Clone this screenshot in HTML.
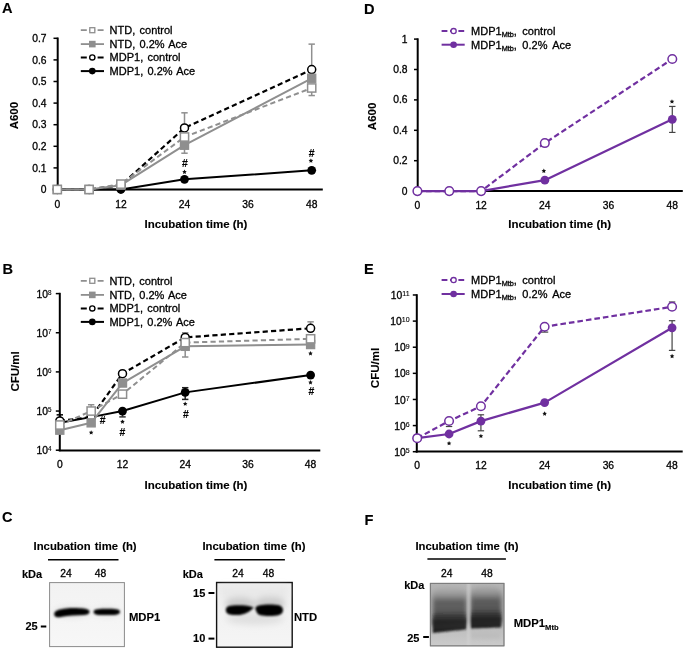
<!DOCTYPE html>
<html><head><meta charset="utf-8"><style>
html,body{margin:0;padding:0;background:#fff;}
body{width:685px;height:650px;overflow:hidden;}
svg{display:block;font-family:"Liberation Sans",sans-serif;will-change:transform;filter:blur(0.3px);}
text{stroke:#000;stroke-width:0.3px;}
text[font-weight="bold"]{stroke-width:0.12px;}
</style></head><body>
<svg width="685" height="650" viewBox="0 0 685 650">
<defs>
<filter id="blur1" x="-20%" y="-50%" width="140%" height="200%"><feGaussianBlur stdDeviation="0.9"/></filter>
<filter id="blur2" x="-20%" y="-50%" width="140%" height="200%"><feGaussianBlur stdDeviation="2.2"/></filter>
<linearGradient id="gC1" x1="0" y1="0" x2="0" y2="1"><stop offset="0" stop-color="#f2f2f2"/><stop offset="1" stop-color="#f7f7f7"/></linearGradient>
<linearGradient id="gC2" x1="0" y1="0" x2="0" y2="1"><stop offset="0" stop-color="#eeeeee"/><stop offset="0.5" stop-color="#f2f2f2"/><stop offset="1" stop-color="#f5f5f5"/></linearGradient>
<linearGradient id="gF" x1="0" y1="0" x2="0" y2="1"><stop offset="0" stop-color="#b6b6b6"/><stop offset="0.25" stop-color="#ababab"/><stop offset="0.8" stop-color="#c2c2c2"/><stop offset="1" stop-color="#cccccc"/></linearGradient>
<linearGradient id="gLane" gradientUnits="userSpaceOnUse" x1="0" y1="587" x2="0" y2="626"><stop offset="0" stop-color="#b2b2b2"/><stop offset="0.18" stop-color="#9a9a9a"/><stop offset="0.33" stop-color="#707070"/><stop offset="0.5" stop-color="#626262"/><stop offset="0.7" stop-color="#4e4e4e"/><stop offset="1" stop-color="#333"/></linearGradient>
<linearGradient id="gLane2" gradientUnits="userSpaceOnUse" x1="0" y1="586" x2="0" y2="624"><stop offset="0" stop-color="#adadad"/><stop offset="0.18" stop-color="#959595"/><stop offset="0.33" stop-color="#6c6c6c"/><stop offset="0.5" stop-color="#5e5e5e"/><stop offset="0.7" stop-color="#4a4a4a"/><stop offset="1" stop-color="#333"/></linearGradient>
<linearGradient id="gBand" gradientUnits="userSpaceOnUse" x1="0" y1="612" x2="0" y2="632"><stop offset="0" stop-color="#222" stop-opacity="0"/><stop offset="0.45" stop-color="#222" stop-opacity="0.85"/><stop offset="1" stop-color="#1c1c1c"/></linearGradient>
<linearGradient id="gBand2" gradientUnits="userSpaceOnUse" x1="0" y1="610" x2="0" y2="628"><stop offset="0" stop-color="#222" stop-opacity="0"/><stop offset="0.45" stop-color="#222" stop-opacity="0.85"/><stop offset="1" stop-color="#1c1c1c"/></linearGradient>
<filter id="blur3" x="-30%" y="-80%" width="160%" height="260%"><feGaussianBlur stdDeviation="3"/></filter>
<filter id="blurF1" x="-20%" y="-30%" width="140%" height="160%"><feGaussianBlur stdDeviation="2.0"/></filter>
<filter id="blurF2" x="-20%" y="-50%" width="140%" height="200%"><feGaussianBlur stdDeviation="1.1"/></filter>
<filter id="blur15" x="-20%" y="-50%" width="140%" height="200%"><feGaussianBlur stdDeviation="1.3"/></filter>
<clipPath id="clipF"><rect x="430.4" y="583.4" width="73.5" height="62.4"/></clipPath>
</defs>
<rect width="685" height="650" fill="#fff"/>
<text x="2.00" y="12.90" font-size="14.6" text-anchor="start" font-weight="bold" fill="#000" >A</text>
<text x="2.50" y="273.90" font-size="14.6" text-anchor="start" font-weight="bold" fill="#000" >B</text>
<text x="2.00" y="521.90" font-size="14.6" text-anchor="start" font-weight="bold" fill="#000" >C</text>
<text x="364.00" y="13.50" font-size="14.6" text-anchor="start" font-weight="bold" fill="#000" >D</text>
<text x="364.00" y="274.40" font-size="14.6" text-anchor="start" font-weight="bold" fill="#000" >E</text>
<text x="364.50" y="524.90" font-size="14.6" text-anchor="start" font-weight="bold" fill="#000" >F</text>
<line x1="57.70" y1="37.50" x2="57.70" y2="190.50" stroke="#000" stroke-width="2" stroke-linecap="butt"/>
<line x1="53.50" y1="189.50" x2="57.70" y2="189.50" stroke="#000" stroke-width="1.5" stroke-linecap="butt"/>
<text x="46.60" y="193.10" font-size="10.3" text-anchor="end" font-weight="normal" fill="#000" >0</text>
<line x1="53.50" y1="167.90" x2="57.70" y2="167.90" stroke="#000" stroke-width="1.5" stroke-linecap="butt"/>
<text x="46.60" y="171.50" font-size="10.3" text-anchor="end" font-weight="normal" fill="#000" >0.1</text>
<line x1="53.50" y1="146.30" x2="57.70" y2="146.30" stroke="#000" stroke-width="1.5" stroke-linecap="butt"/>
<text x="46.60" y="149.90" font-size="10.3" text-anchor="end" font-weight="normal" fill="#000" >0.2</text>
<line x1="53.50" y1="124.70" x2="57.70" y2="124.70" stroke="#000" stroke-width="1.5" stroke-linecap="butt"/>
<text x="46.60" y="128.30" font-size="10.3" text-anchor="end" font-weight="normal" fill="#000" >0.3</text>
<line x1="53.50" y1="103.10" x2="57.70" y2="103.10" stroke="#000" stroke-width="1.5" stroke-linecap="butt"/>
<text x="46.60" y="106.70" font-size="10.3" text-anchor="end" font-weight="normal" fill="#000" >0.4</text>
<line x1="53.50" y1="81.50" x2="57.70" y2="81.50" stroke="#000" stroke-width="1.5" stroke-linecap="butt"/>
<text x="46.60" y="85.10" font-size="10.3" text-anchor="end" font-weight="normal" fill="#000" >0.5</text>
<line x1="53.50" y1="59.90" x2="57.70" y2="59.90" stroke="#000" stroke-width="1.5" stroke-linecap="butt"/>
<text x="46.60" y="63.50" font-size="10.3" text-anchor="end" font-weight="normal" fill="#000" >0.6</text>
<line x1="53.50" y1="38.30" x2="57.70" y2="38.30" stroke="#000" stroke-width="1.5" stroke-linecap="butt"/>
<text x="46.60" y="41.90" font-size="10.3" text-anchor="end" font-weight="normal" fill="#000" >0.7</text>
<line x1="56.70" y1="189.60" x2="322.80" y2="189.60" stroke="#000" stroke-width="2" stroke-linecap="butt"/>
<text x="57.30" y="207.80" font-size="10.3" text-anchor="middle" font-weight="normal" fill="#000" >0</text>
<text x="120.90" y="207.80" font-size="10.3" text-anchor="middle" font-weight="normal" fill="#000" >12</text>
<text x="184.50" y="207.80" font-size="10.3" text-anchor="middle" font-weight="normal" fill="#000" >24</text>
<text x="248.10" y="207.80" font-size="10.3" text-anchor="middle" font-weight="normal" fill="#000" >36</text>
<text x="311.70" y="207.80" font-size="10.3" text-anchor="middle" font-weight="normal" fill="#000" >48</text>
<text x="196.00" y="227.90" font-size="11.5" text-anchor="middle" font-weight="bold" fill="#000" >Incubation time (h)</text>
<text x="17.70" y="115.60" font-size="11.5" text-anchor="middle" font-weight="bold" fill="#000" transform="rotate(-90 17.7 115.6)">A600</text>
<line x1="184.50" y1="127.94" x2="184.50" y2="112.82" stroke="#8f8f8f" stroke-width="1.5" stroke-linecap="butt"/>
<line x1="181.30" y1="112.82" x2="187.70" y2="112.82" stroke="#8f8f8f" stroke-width="1.5" stroke-linecap="butt"/>
<line x1="184.50" y1="145.22" x2="184.50" y2="153.21" stroke="#8f8f8f" stroke-width="1.5" stroke-linecap="butt"/>
<line x1="181.30" y1="153.21" x2="187.70" y2="153.21" stroke="#8f8f8f" stroke-width="1.5" stroke-linecap="butt"/>
<line x1="311.70" y1="69.62" x2="311.70" y2="44.13" stroke="#8f8f8f" stroke-width="1.5" stroke-linecap="butt"/>
<line x1="308.50" y1="44.13" x2="314.90" y2="44.13" stroke="#8f8f8f" stroke-width="1.5" stroke-linecap="butt"/>
<line x1="311.70" y1="87.98" x2="311.70" y2="95.54" stroke="#8f8f8f" stroke-width="1.5" stroke-linecap="butt"/>
<line x1="308.50" y1="95.54" x2="314.90" y2="95.54" stroke="#8f8f8f" stroke-width="1.5" stroke-linecap="butt"/>
<polyline points="57.30,189.50 89.10,189.50 120.90,189.50 184.50,179.35 311.70,170.28" fill="none" stroke="#000" stroke-width="2" stroke-linejoin="round"/>
<circle cx="57.30" cy="189.50" r="4.4" fill="#000"/>
<circle cx="89.10" cy="189.50" r="4.4" fill="#000"/>
<circle cx="120.90" cy="189.50" r="4.4" fill="#000"/>
<circle cx="184.50" cy="179.35" r="4.4" fill="#000"/>
<circle cx="311.70" cy="170.28" r="4.4" fill="#000"/>
<polyline points="57.30,189.50 89.10,189.50 120.90,185.18 184.50,127.94 311.70,69.62" fill="none" stroke="#000" stroke-width="2.2" stroke-linejoin="round" stroke-dasharray="5.2,3.2"/>
<circle cx="57.30" cy="189.50" r="4.0" fill="#fff" stroke="#000" stroke-width="1.5"/>
<circle cx="89.10" cy="189.50" r="4.0" fill="#fff" stroke="#000" stroke-width="1.5"/>
<circle cx="120.90" cy="185.18" r="4.0" fill="#fff" stroke="#000" stroke-width="1.5"/>
<circle cx="184.50" cy="127.94" r="4.0" fill="#fff" stroke="#000" stroke-width="1.5"/>
<circle cx="311.70" cy="69.62" r="4.0" fill="#fff" stroke="#000" stroke-width="1.5"/>
<polyline points="57.30,189.50 89.10,189.50 120.90,185.18 184.50,145.22 311.70,78.26" fill="none" stroke="#8f8f8f" stroke-width="2" stroke-linejoin="round"/>
<rect x="53.20" y="185.40" width="8.2" height="8.2" fill="#8f8f8f" stroke="#8f8f8f" stroke-width="1.2"/>
<rect x="85.00" y="185.40" width="8.2" height="8.2" fill="#8f8f8f" stroke="#8f8f8f" stroke-width="1.2"/>
<rect x="116.80" y="181.08" width="8.2" height="8.2" fill="#8f8f8f" stroke="#8f8f8f" stroke-width="1.2"/>
<rect x="180.40" y="141.12" width="8.2" height="8.2" fill="#8f8f8f" stroke="#8f8f8f" stroke-width="1.2"/>
<rect x="307.60" y="74.16" width="8.2" height="8.2" fill="#8f8f8f" stroke="#8f8f8f" stroke-width="1.2"/>
<polyline points="57.30,189.50 89.10,189.50 120.90,184.10 184.50,137.01 311.70,87.98" fill="none" stroke="#8f8f8f" stroke-width="2" stroke-linejoin="round" stroke-dasharray="5.2,3.2"/>
<rect x="53.20" y="185.40" width="8.2" height="8.2" fill="#fff" stroke="#8f8f8f" stroke-width="1.5"/>
<rect x="85.00" y="185.40" width="8.2" height="8.2" fill="#fff" stroke="#8f8f8f" stroke-width="1.5"/>
<rect x="116.80" y="180.00" width="8.2" height="8.2" fill="#fff" stroke="#8f8f8f" stroke-width="1.5"/>
<rect x="180.40" y="132.91" width="8.2" height="8.2" fill="#fff" stroke="#8f8f8f" stroke-width="1.5"/>
<rect x="307.60" y="83.88" width="8.2" height="8.2" fill="#fff" stroke="#8f8f8f" stroke-width="1.5"/>
<text x="184.80" y="167.20" font-size="10.4" text-anchor="middle" font-weight="bold">#</text>
<polygon points="184.50,169.60 185.21,171.03 186.78,171.26 185.64,172.37 185.91,173.94 184.50,173.20 183.09,173.94 183.36,172.37 182.22,171.26 183.79,171.03" fill="#111"/>
<text x="311.70" y="156.60" font-size="10.4" text-anchor="middle" font-weight="bold">#</text>
<polygon points="310.90,158.40 311.61,159.83 313.18,160.06 312.04,161.17 312.31,162.74 310.90,162.00 309.49,162.74 309.76,161.17 308.62,160.06 310.19,159.83" fill="#111"/>
<line x1="80.80" y1="30.20" x2="104.00" y2="30.20" stroke="#8f8f8f" stroke-width="1.8" stroke-linecap="butt" stroke-dasharray="6,2.4"/>
<rect x="89.80" y="27.70" width="5" height="5" fill="#fff" stroke="#8f8f8f" stroke-width="1.3"/>
<text x="109.60" y="33.60" font-size="11" text-anchor="start" font-weight="normal" fill="#000" word-spacing="1.2">NTD, control</text>
<line x1="80.80" y1="44.10" x2="104.00" y2="44.10" stroke="#8f8f8f" stroke-width="1.8" stroke-linecap="butt"/>
<rect x="89.00" y="40.80" width="6.6" height="6.6" fill="#8f8f8f"/>
<text x="109.60" y="47.60" font-size="11" text-anchor="start" font-weight="normal" fill="#000" word-spacing="1.2">NTD, 0.2% Ace</text>
<line x1="80.80" y1="57.40" x2="104.00" y2="57.40" stroke="#000" stroke-width="2" stroke-linecap="butt" stroke-dasharray="6,2.4"/>
<circle cx="92.30" cy="57.40" r="2.6" fill="#fff" stroke="#000" stroke-width="1.3"/>
<text x="109.60" y="61.40" font-size="11" text-anchor="start" font-weight="normal" fill="#000" word-spacing="1.2">MDP1, control</text>
<line x1="80.80" y1="71.10" x2="104.00" y2="71.10" stroke="#000" stroke-width="2" stroke-linecap="butt"/>
<circle cx="92.30" cy="71.10" r="3.3" fill="#000"/>
<text x="109.60" y="75.20" font-size="11" text-anchor="start" font-weight="normal" fill="#000" word-spacing="1.2">MDP1, 0.2% Ace</text>
<line x1="59.80" y1="292.80" x2="59.80" y2="451.20" stroke="#000" stroke-width="2" stroke-linecap="butt"/>
<line x1="55.80" y1="450.20" x2="59.80" y2="450.20" stroke="#000" stroke-width="1.5" stroke-linecap="butt"/>
<text x="51.50" y="454.40" font-size="10.3" text-anchor="end">10<tspan font-size="6.3" dy="-3.0" stroke-width="0.12">4</tspan></text>
<line x1="55.80" y1="411.05" x2="59.80" y2="411.05" stroke="#000" stroke-width="1.5" stroke-linecap="butt"/>
<text x="51.50" y="415.25" font-size="10.3" text-anchor="end">10<tspan font-size="6.3" dy="-3.0" stroke-width="0.12">5</tspan></text>
<line x1="55.80" y1="371.90" x2="59.80" y2="371.90" stroke="#000" stroke-width="1.5" stroke-linecap="butt"/>
<text x="51.50" y="376.10" font-size="10.3" text-anchor="end">10<tspan font-size="6.3" dy="-3.0" stroke-width="0.12">6</tspan></text>
<line x1="55.80" y1="332.75" x2="59.80" y2="332.75" stroke="#000" stroke-width="1.5" stroke-linecap="butt"/>
<text x="51.50" y="336.95" font-size="10.3" text-anchor="end">10<tspan font-size="6.3" dy="-3.0" stroke-width="0.12">7</tspan></text>
<line x1="55.80" y1="293.60" x2="59.80" y2="293.60" stroke="#000" stroke-width="1.5" stroke-linecap="butt"/>
<text x="51.50" y="297.80" font-size="10.3" text-anchor="end">10<tspan font-size="6.3" dy="-3.0" stroke-width="0.12">8</tspan></text>
<line x1="58.80" y1="450.60" x2="320.30" y2="450.60" stroke="#000" stroke-width="2" stroke-linecap="butt"/>
<text x="59.80" y="467.60" font-size="10.3" text-anchor="middle" font-weight="normal" fill="#000" >0</text>
<text x="122.50" y="467.60" font-size="10.3" text-anchor="middle" font-weight="normal" fill="#000" >12</text>
<text x="185.20" y="467.60" font-size="10.3" text-anchor="middle" font-weight="normal" fill="#000" >24</text>
<text x="247.90" y="467.60" font-size="10.3" text-anchor="middle" font-weight="normal" fill="#000" >36</text>
<text x="310.60" y="467.60" font-size="10.3" text-anchor="middle" font-weight="normal" fill="#000" >48</text>
<text x="196.00" y="488.50" font-size="11.5" text-anchor="middle" font-weight="bold" fill="#000" >Incubation time (h)</text>
<text x="18.60" y="371.40" font-size="11.5" text-anchor="middle" font-weight="bold" fill="#000" transform="rotate(-90 18.6 371.4)">CFU/ml</text>
<line x1="59.80" y1="420.91" x2="59.80" y2="414.84" stroke="#000" stroke-width="1.5" stroke-linecap="butt"/>
<line x1="56.60" y1="414.84" x2="63.00" y2="414.84" stroke="#000" stroke-width="1.5" stroke-linecap="butt"/>
<line x1="91.15" y1="411.05" x2="91.15" y2="404.73" stroke="#8f8f8f" stroke-width="1.5" stroke-linecap="butt"/>
<line x1="87.95" y1="404.73" x2="94.35" y2="404.73" stroke="#8f8f8f" stroke-width="1.5" stroke-linecap="butt"/>
<line x1="185.20" y1="346.33" x2="185.20" y2="357.01" stroke="#8f8f8f" stroke-width="1.5" stroke-linecap="butt"/>
<line x1="182.00" y1="357.01" x2="188.40" y2="357.01" stroke="#8f8f8f" stroke-width="1.5" stroke-linecap="butt"/>
<line x1="185.20" y1="337.42" x2="185.20" y2="332.75" stroke="#8f8f8f" stroke-width="1.5" stroke-linecap="butt"/>
<line x1="182.00" y1="332.75" x2="188.40" y2="332.75" stroke="#8f8f8f" stroke-width="1.5" stroke-linecap="butt"/>
<line x1="310.60" y1="328.29" x2="310.60" y2="321.84" stroke="#8f8f8f" stroke-width="1.5" stroke-linecap="butt"/>
<line x1="307.40" y1="321.84" x2="313.80" y2="321.84" stroke="#8f8f8f" stroke-width="1.5" stroke-linecap="butt"/>
<line x1="122.50" y1="411.00" x2="122.50" y2="416.90" stroke="#333" stroke-width="1.5" stroke-linecap="butt"/>
<line x1="119.30" y1="416.90" x2="125.70" y2="416.90" stroke="#333" stroke-width="1.5" stroke-linecap="butt"/>
<line x1="185.20" y1="387.70" x2="185.20" y2="399.40" stroke="#222" stroke-width="1.5" stroke-linecap="butt"/>
<line x1="182.00" y1="387.70" x2="188.40" y2="387.70" stroke="#222" stroke-width="1.5" stroke-linecap="butt"/>
<line x1="182.00" y1="399.40" x2="188.40" y2="399.40" stroke="#222" stroke-width="1.5" stroke-linecap="butt"/>
<polyline points="59.80,422.84 91.15,417.11 122.50,411.05 185.20,392.37 310.60,375.07" fill="none" stroke="#000" stroke-width="2" stroke-linejoin="round"/>
<circle cx="59.80" cy="422.84" r="4.4" fill="#000"/>
<circle cx="91.15" cy="417.11" r="4.4" fill="#000"/>
<circle cx="122.50" cy="411.05" r="4.4" fill="#000"/>
<circle cx="185.20" cy="392.37" r="4.4" fill="#000"/>
<circle cx="310.60" cy="375.07" r="4.4" fill="#000"/>
<polyline points="59.80,420.91 91.15,417.11 122.50,373.69 185.20,337.42 310.60,328.29" fill="none" stroke="#000" stroke-width="2.2" stroke-linejoin="round" stroke-dasharray="5.2,3.2"/>
<circle cx="59.80" cy="420.91" r="4.0" fill="#fff" stroke="#000" stroke-width="1.5"/>
<circle cx="91.15" cy="417.11" r="4.0" fill="#fff" stroke="#000" stroke-width="1.5"/>
<circle cx="122.50" cy="373.69" r="4.0" fill="#fff" stroke="#000" stroke-width="1.5"/>
<circle cx="185.20" cy="337.42" r="4.0" fill="#fff" stroke="#000" stroke-width="1.5"/>
<circle cx="310.60" cy="328.29" r="4.0" fill="#fff" stroke="#000" stroke-width="1.5"/>
<polyline points="59.80,430.16 91.15,422.84 122.50,383.02 185.20,346.33 310.60,344.54" fill="none" stroke="#8f8f8f" stroke-width="2" stroke-linejoin="round"/>
<rect x="55.70" y="426.06" width="8.2" height="8.2" fill="#8f8f8f" stroke="#8f8f8f" stroke-width="1.2"/>
<rect x="87.05" y="418.74" width="8.2" height="8.2" fill="#8f8f8f" stroke="#8f8f8f" stroke-width="1.2"/>
<rect x="118.40" y="378.92" width="8.2" height="8.2" fill="#8f8f8f" stroke="#8f8f8f" stroke-width="1.2"/>
<rect x="181.10" y="342.23" width="8.2" height="8.2" fill="#8f8f8f" stroke="#8f8f8f" stroke-width="1.2"/>
<rect x="306.50" y="340.44" width="8.2" height="8.2" fill="#8f8f8f" stroke="#8f8f8f" stroke-width="1.2"/>
<polyline points="59.80,425.01 91.15,411.05 122.50,394.16 185.20,342.61 310.60,338.81" fill="none" stroke="#8f8f8f" stroke-width="2" stroke-linejoin="round" stroke-dasharray="5.2,3.2"/>
<rect x="55.70" y="420.91" width="8.2" height="8.2" fill="#fff" stroke="#8f8f8f" stroke-width="1.5"/>
<rect x="87.05" y="406.95" width="8.2" height="8.2" fill="#fff" stroke="#8f8f8f" stroke-width="1.5"/>
<rect x="118.40" y="390.06" width="8.2" height="8.2" fill="#fff" stroke="#8f8f8f" stroke-width="1.5"/>
<rect x="181.10" y="338.51" width="8.2" height="8.2" fill="#fff" stroke="#8f8f8f" stroke-width="1.5"/>
<rect x="306.50" y="334.71" width="8.2" height="8.2" fill="#fff" stroke="#8f8f8f" stroke-width="1.5"/>
<polygon points="91.15,430.20 91.86,431.63 93.43,431.86 92.29,432.97 92.56,434.54 91.15,433.80 89.74,434.54 90.01,432.97 88.87,431.86 90.44,431.63" fill="#111"/>
<text x="102.70" y="423.50" font-size="10.4" text-anchor="middle" font-weight="bold">#</text>
<polygon points="122.50,419.40 123.21,420.83 124.78,421.06 123.64,422.17 123.91,423.74 122.50,423.00 121.09,423.74 121.36,422.17 120.22,421.06 121.79,420.83" fill="#111"/>
<text x="122.50" y="435.60" font-size="10.4" text-anchor="middle" font-weight="bold">#</text>
<polygon points="185.20,401.50 185.91,402.93 187.48,403.16 186.34,404.27 186.61,405.84 185.20,405.10 183.79,405.84 184.06,404.27 182.92,403.16 184.49,402.93" fill="#111"/>
<text x="185.80" y="417.80" font-size="10.4" text-anchor="middle" font-weight="bold">#</text>
<polygon points="310.50,351.10 311.21,352.53 312.78,352.76 311.64,353.87 311.91,355.44 310.50,354.70 309.09,355.44 309.36,353.87 308.22,352.76 309.79,352.53" fill="#111"/>
<polygon points="310.50,380.10 311.21,381.53 312.78,381.76 311.64,382.87 311.91,384.44 310.50,383.70 309.09,384.44 309.36,382.87 308.22,381.76 309.79,381.53" fill="#111"/>
<text x="311.50" y="395.00" font-size="10.4" text-anchor="middle" font-weight="bold">#</text>
<line x1="80.80" y1="280.80" x2="104.00" y2="280.80" stroke="#8f8f8f" stroke-width="1.8" stroke-linecap="butt" stroke-dasharray="6,2.4"/>
<rect x="89.80" y="278.30" width="5" height="5" fill="#fff" stroke="#8f8f8f" stroke-width="1.3"/>
<text x="109.40" y="284.50" font-size="11" text-anchor="start" font-weight="normal" fill="#000" word-spacing="1.2">NTD, control</text>
<line x1="80.80" y1="294.90" x2="104.00" y2="294.90" stroke="#8f8f8f" stroke-width="1.8" stroke-linecap="butt"/>
<rect x="89.00" y="291.60" width="6.6" height="6.6" fill="#8f8f8f"/>
<text x="109.40" y="298.50" font-size="11" text-anchor="start" font-weight="normal" fill="#000" word-spacing="1.2">NTD, 0.2% Ace</text>
<line x1="80.80" y1="308.40" x2="104.00" y2="308.40" stroke="#000" stroke-width="2" stroke-linecap="butt" stroke-dasharray="6,2.4"/>
<circle cx="92.30" cy="308.40" r="2.6" fill="#fff" stroke="#000" stroke-width="1.3"/>
<text x="109.40" y="312.30" font-size="11" text-anchor="start" font-weight="normal" fill="#000" word-spacing="1.2">MDP1, control</text>
<line x1="80.80" y1="321.90" x2="104.00" y2="321.90" stroke="#000" stroke-width="2" stroke-linecap="butt"/>
<circle cx="92.30" cy="321.90" r="3.3" fill="#000"/>
<text x="109.40" y="326.00" font-size="11" text-anchor="start" font-weight="normal" fill="#000" word-spacing="1.2">MDP1, 0.2% Ace</text>
<line x1="417.70" y1="38.30" x2="417.70" y2="192.00" stroke="#000" stroke-width="2" stroke-linecap="butt"/>
<line x1="414.00" y1="191.10" x2="417.70" y2="191.10" stroke="#000" stroke-width="1.5" stroke-linecap="butt"/>
<text x="407.60" y="194.60" font-size="10.3" text-anchor="end" font-weight="normal" fill="#000" >0</text>
<line x1="414.00" y1="160.70" x2="417.70" y2="160.70" stroke="#000" stroke-width="1.5" stroke-linecap="butt"/>
<text x="407.60" y="164.20" font-size="10.3" text-anchor="end" font-weight="normal" fill="#000" >0.2</text>
<line x1="414.00" y1="130.30" x2="417.70" y2="130.30" stroke="#000" stroke-width="1.5" stroke-linecap="butt"/>
<text x="407.60" y="133.80" font-size="10.3" text-anchor="end" font-weight="normal" fill="#000" >0.4</text>
<line x1="414.00" y1="99.90" x2="417.70" y2="99.90" stroke="#000" stroke-width="1.5" stroke-linecap="butt"/>
<text x="407.60" y="103.40" font-size="10.3" text-anchor="end" font-weight="normal" fill="#000" >0.6</text>
<line x1="414.00" y1="69.50" x2="417.70" y2="69.50" stroke="#000" stroke-width="1.5" stroke-linecap="butt"/>
<text x="407.60" y="73.00" font-size="10.3" text-anchor="end" font-weight="normal" fill="#000" >0.8</text>
<line x1="414.00" y1="39.10" x2="417.70" y2="39.10" stroke="#000" stroke-width="1.5" stroke-linecap="butt"/>
<text x="407.60" y="42.60" font-size="10.3" text-anchor="end" font-weight="normal" fill="#000" >1</text>
<line x1="416.70" y1="191.00" x2="682.80" y2="191.00" stroke="#000" stroke-width="2" stroke-linecap="butt"/>
<text x="417.40" y="209.20" font-size="10.3" text-anchor="middle" font-weight="normal" fill="#000" >0</text>
<text x="481.12" y="209.20" font-size="10.3" text-anchor="middle" font-weight="normal" fill="#000" >12</text>
<text x="544.84" y="209.20" font-size="10.3" text-anchor="middle" font-weight="normal" fill="#000" >24</text>
<text x="608.56" y="209.20" font-size="10.3" text-anchor="middle" font-weight="normal" fill="#000" >36</text>
<text x="672.28" y="209.20" font-size="10.3" text-anchor="middle" font-weight="normal" fill="#000" >48</text>
<text x="559.70" y="228.00" font-size="11.5" text-anchor="middle" font-weight="bold" fill="#000" >Incubation time (h)</text>
<text x="376.00" y="116.40" font-size="11.5" text-anchor="middle" font-weight="bold" fill="#000" transform="rotate(-90 376.0 116.4)">A600</text>
<line x1="672.28" y1="106.44" x2="672.28" y2="132.43" stroke="#444" stroke-width="1.2" stroke-linecap="butt"/>
<line x1="669.08" y1="106.44" x2="675.48" y2="106.44" stroke="#444" stroke-width="1.2" stroke-linecap="butt"/>
<line x1="669.08" y1="132.43" x2="675.48" y2="132.43" stroke="#444" stroke-width="1.2" stroke-linecap="butt"/>
<polyline points="417.40,191.10 449.26,191.10 481.12,191.10 544.84,180.16 672.28,119.36" fill="none" stroke="#7030a0" stroke-width="2.2" stroke-linejoin="round"/>
<polyline points="417.40,191.10 449.26,191.10 481.12,191.10 544.84,143.07 672.28,59.01" fill="none" stroke="#7030a0" stroke-width="2.2" stroke-linejoin="round" stroke-dasharray="5.6,3"/>
<circle cx="417.40" cy="191.10" r="4.4" fill="#7030a0"/>
<circle cx="449.26" cy="191.10" r="4.4" fill="#7030a0"/>
<circle cx="481.12" cy="191.10" r="4.4" fill="#7030a0"/>
<circle cx="544.84" cy="180.16" r="4.4" fill="#7030a0"/>
<circle cx="672.28" cy="119.36" r="4.4" fill="#7030a0"/>
<circle cx="417.40" cy="191.10" r="4.3" fill="#fff" stroke="#7030a0" stroke-width="1.5"/>
<circle cx="449.26" cy="191.10" r="4.3" fill="#fff" stroke="#7030a0" stroke-width="1.5"/>
<circle cx="481.12" cy="191.10" r="4.3" fill="#fff" stroke="#7030a0" stroke-width="1.5"/>
<circle cx="544.84" cy="143.07" r="4.3" fill="#fff" stroke="#7030a0" stroke-width="1.5"/>
<circle cx="672.28" cy="59.01" r="4.3" fill="#fff" stroke="#7030a0" stroke-width="1.5"/>
<polygon points="543.84,168.60 544.55,170.03 546.12,170.26 544.98,171.37 545.25,172.94 543.84,172.20 542.43,172.94 542.70,171.37 541.56,170.26 543.13,170.03" fill="#111"/>
<polygon points="671.98,99.20 672.69,100.63 674.26,100.86 673.12,101.97 673.39,103.54 671.98,102.80 670.57,103.54 670.84,101.97 669.70,100.86 671.27,100.63" fill="#111"/>
<line x1="441.60" y1="31.10" x2="464.70" y2="31.10" stroke="#7030a0" stroke-width="2" stroke-linecap="butt" stroke-dasharray="5.8,2.6"/>
<circle cx="453.60" cy="31.10" r="2.6" fill="#fff" stroke="#7030a0" stroke-width="1.3"/>
<text x="471.1" y="35.10" font-size="11" word-spacing="2.4">MDP1<tspan font-size="7.3" dy="2.2">Mtb</tspan><tspan dy="-2.2">, control</tspan></text>
<line x1="441.60" y1="44.70" x2="464.70" y2="44.70" stroke="#7030a0" stroke-width="2" stroke-linecap="butt"/>
<circle cx="453.60" cy="44.70" r="3.3" fill="#7030a0"/>
<text x="471.1" y="48.70" font-size="11" word-spacing="2.4">MDP1<tspan font-size="7.3" dy="2.2">Mtb</tspan><tspan dy="-2.2">, 0.2% Ace</tspan></text>
<line x1="416.80" y1="294.20" x2="416.80" y2="452.60" stroke="#000" stroke-width="2" stroke-linecap="butt"/>
<line x1="412.80" y1="451.70" x2="416.80" y2="451.70" stroke="#000" stroke-width="1.5" stroke-linecap="butt"/>
<text x="409.60" y="455.80" font-size="10.3" text-anchor="end">10<tspan font-size="7.0" dy="-2.8" stroke-width="0.12">5</tspan></text>
<line x1="412.80" y1="425.58" x2="416.80" y2="425.58" stroke="#000" stroke-width="1.5" stroke-linecap="butt"/>
<text x="409.60" y="429.68" font-size="10.3" text-anchor="end">10<tspan font-size="7.0" dy="-2.8" stroke-width="0.12">6</tspan></text>
<line x1="412.80" y1="399.46" x2="416.80" y2="399.46" stroke="#000" stroke-width="1.5" stroke-linecap="butt"/>
<text x="409.60" y="403.56" font-size="10.3" text-anchor="end">10<tspan font-size="7.0" dy="-2.8" stroke-width="0.12">7</tspan></text>
<line x1="412.80" y1="373.34" x2="416.80" y2="373.34" stroke="#000" stroke-width="1.5" stroke-linecap="butt"/>
<text x="409.60" y="377.44" font-size="10.3" text-anchor="end">10<tspan font-size="7.0" dy="-2.8" stroke-width="0.12">8</tspan></text>
<line x1="412.80" y1="347.22" x2="416.80" y2="347.22" stroke="#000" stroke-width="1.5" stroke-linecap="butt"/>
<text x="409.60" y="351.32" font-size="10.3" text-anchor="end">10<tspan font-size="7.0" dy="-2.8" stroke-width="0.12">9</tspan></text>
<line x1="412.80" y1="321.10" x2="416.80" y2="321.10" stroke="#000" stroke-width="1.5" stroke-linecap="butt"/>
<text x="409.60" y="325.20" font-size="10.3" text-anchor="end">10<tspan font-size="7.0" dy="-2.8" stroke-width="0.12">10</tspan></text>
<line x1="412.80" y1="294.98" x2="416.80" y2="294.98" stroke="#000" stroke-width="1.5" stroke-linecap="butt"/>
<text x="409.60" y="299.08" font-size="10.3" text-anchor="end">10<tspan font-size="7.0" dy="-2.8" stroke-width="0.12">11</tspan></text>
<line x1="415.80" y1="451.60" x2="682.70" y2="451.60" stroke="#000" stroke-width="2" stroke-linecap="butt"/>
<text x="417.20" y="469.30" font-size="10.3" text-anchor="middle" font-weight="normal" fill="#000" >0</text>
<text x="480.92" y="469.30" font-size="10.3" text-anchor="middle" font-weight="normal" fill="#000" >12</text>
<text x="544.64" y="469.30" font-size="10.3" text-anchor="middle" font-weight="normal" fill="#000" >24</text>
<text x="608.36" y="469.30" font-size="10.3" text-anchor="middle" font-weight="normal" fill="#000" >36</text>
<text x="672.08" y="469.30" font-size="10.3" text-anchor="middle" font-weight="normal" fill="#000" >48</text>
<text x="559.70" y="488.60" font-size="11.5" text-anchor="middle" font-weight="bold" fill="#000" >Incubation time (h)</text>
<text x="378.60" y="368.00" font-size="11.5" text-anchor="middle" font-weight="bold" fill="#000" transform="rotate(-90 378.6 368)">CFU/ml</text>
<line x1="480.92" y1="414.80" x2="480.92" y2="430.80" stroke="#444" stroke-width="1.2" stroke-linecap="butt"/>
<line x1="477.72" y1="414.80" x2="484.12" y2="414.80" stroke="#444" stroke-width="1.2" stroke-linecap="butt"/>
<line x1="477.72" y1="430.80" x2="484.12" y2="430.80" stroke="#444" stroke-width="1.2" stroke-linecap="butt"/>
<line x1="672.08" y1="320.70" x2="672.08" y2="350.40" stroke="#444" stroke-width="1.2" stroke-linecap="butt"/>
<line x1="668.88" y1="320.70" x2="675.28" y2="320.70" stroke="#444" stroke-width="1.2" stroke-linecap="butt"/>
<line x1="668.88" y1="350.40" x2="675.28" y2="350.40" stroke="#444" stroke-width="1.2" stroke-linecap="butt"/>
<line x1="672.08" y1="306.80" x2="672.08" y2="302.00" stroke="#444" stroke-width="1.2" stroke-linecap="butt"/>
<line x1="668.88" y1="302.00" x2="675.28" y2="302.00" stroke="#444" stroke-width="1.2" stroke-linecap="butt"/>
<line x1="449.06" y1="421.00" x2="449.06" y2="426.50" stroke="#444" stroke-width="1.2" stroke-linecap="butt"/>
<line x1="445.86" y1="426.50" x2="452.26" y2="426.50" stroke="#444" stroke-width="1.2" stroke-linecap="butt"/>
<line x1="544.64" y1="326.70" x2="544.64" y2="332.10" stroke="#444" stroke-width="1.2" stroke-linecap="butt"/>
<line x1="541.04" y1="332.10" x2="548.24" y2="332.10" stroke="#444" stroke-width="1.2" stroke-linecap="butt"/>
<polyline points="417.20,438.19 449.06,434.00 480.92,421.13 544.64,402.59 672.08,327.78" fill="none" stroke="#7030a0" stroke-width="2.2" stroke-linejoin="round"/>
<polyline points="417.20,438.19 449.06,420.98 480.92,406.30 544.64,326.71 672.08,306.79" fill="none" stroke="#7030a0" stroke-width="2.2" stroke-linejoin="round" stroke-dasharray="5.6,3"/>
<circle cx="417.20" cy="438.19" r="4.4" fill="#7030a0"/>
<circle cx="449.06" cy="434.00" r="4.4" fill="#7030a0"/>
<circle cx="480.92" cy="421.13" r="4.4" fill="#7030a0"/>
<circle cx="544.64" cy="402.59" r="4.4" fill="#7030a0"/>
<circle cx="672.08" cy="327.78" r="4.4" fill="#7030a0"/>
<circle cx="417.20" cy="438.19" r="4.3" fill="#fff" stroke="#7030a0" stroke-width="1.5"/>
<circle cx="449.06" cy="420.98" r="4.3" fill="#fff" stroke="#7030a0" stroke-width="1.5"/>
<circle cx="480.92" cy="406.30" r="4.3" fill="#fff" stroke="#7030a0" stroke-width="1.5"/>
<circle cx="544.64" cy="326.71" r="4.3" fill="#fff" stroke="#7030a0" stroke-width="1.5"/>
<circle cx="672.08" cy="306.79" r="4.3" fill="#fff" stroke="#7030a0" stroke-width="1.5"/>
<polygon points="449.06,441.00 449.77,442.43 451.34,442.66 450.20,443.77 450.47,445.34 449.06,444.60 447.65,445.34 447.92,443.77 446.78,442.66 448.35,442.43" fill="#111"/>
<polygon points="480.92,433.70 481.63,435.13 483.20,435.36 482.06,436.47 482.33,438.04 480.92,437.30 479.51,438.04 479.78,436.47 478.64,435.36 480.21,435.13" fill="#111"/>
<polygon points="544.64,411.30 545.35,412.73 546.92,412.96 545.78,414.07 546.05,415.64 544.64,414.90 543.23,415.64 543.50,414.07 542.36,412.96 543.93,412.73" fill="#111"/>
<polygon points="672.08,353.80 672.79,355.23 674.36,355.46 673.22,356.57 673.49,358.14 672.08,357.40 670.67,358.14 670.94,356.57 669.80,355.46 671.37,355.23" fill="#111"/>
<line x1="441.60" y1="280.10" x2="464.70" y2="280.10" stroke="#7030a0" stroke-width="2" stroke-linecap="butt" stroke-dasharray="5.8,2.6"/>
<circle cx="453.60" cy="280.10" r="2.6" fill="#fff" stroke="#7030a0" stroke-width="1.3"/>
<text x="471.1" y="284.10" font-size="11" word-spacing="2.4">MDP1<tspan font-size="7.3" dy="2.2">Mtb</tspan><tspan dy="-2.2">, control</tspan></text>
<line x1="441.60" y1="294.00" x2="464.70" y2="294.00" stroke="#7030a0" stroke-width="2" stroke-linecap="butt"/>
<circle cx="453.60" cy="294.00" r="3.3" fill="#7030a0"/>
<text x="471.1" y="298.00" font-size="11" word-spacing="2.4">MDP1<tspan font-size="7.3" dy="2.2">Mtb</tspan><tspan dy="-2.2">, 0.2% Ace</tspan></text>
<text x="85.10" y="550.40" font-size="11.3" text-anchor="middle" font-weight="bold" fill="#000" word-spacing="1">Incubation time (h)</text>
<line x1="48.00" y1="559.70" x2="118.50" y2="559.70" stroke="#000" stroke-width="1.5" stroke-linecap="butt"/>
<text x="32.00" y="577.60" font-size="11" text-anchor="middle" font-weight="bold" fill="#000" >kDa</text>
<text x="66.10" y="576.60" font-size="10.3" text-anchor="middle" font-weight="normal" fill="#000" >24</text>
<text x="100.50" y="576.60" font-size="10.3" text-anchor="middle" font-weight="normal" fill="#000" >48</text>
<rect x="49.6" y="582.6" width="74.8" height="64" fill="url(#gC1)" stroke="#8a8a8a" stroke-width="1"/>
<g filter="url(#blur3)"><ellipse cx="72" cy="612" rx="18" ry="5" fill="#c8c8c8" opacity="0.5"/><ellipse cx="107" cy="612" rx="13" ry="4" fill="#c8c8c8" opacity="0.5"/></g>
<g filter="url(#blur1)"><path d="M54.2,614 C54.2,610.4 60,609.2 66,608.5 C74,607.7 86,608 89.2,610.4 C90.2,612.6 89,614.8 84,614.9 C76,615.1 68,615.4 62,616.7 C57,617.9 54.2,617.4 54.2,614 Z" fill="#000"/><path d="M93.6,611.9 C93.6,608.8 100,608.8 107,608.8 C114,608.8 120,608.8 120,611.9 C120,615 114,615 107,615 C100,615 93.6,615.2 93.6,611.9 Z" fill="#000"/></g>
<text x="144.60" y="621.00" font-size="11.3" text-anchor="middle" font-weight="bold" fill="#000" >MDP1</text>
<text x="31.60" y="630.30" font-size="11" text-anchor="middle" font-weight="bold" fill="#000" >25</text>
<line x1="40.80" y1="626.50" x2="46.30" y2="626.50" stroke="#000" stroke-width="2" stroke-linecap="butt"/>
<text x="254.00" y="550.00" font-size="11.3" text-anchor="middle" font-weight="bold" fill="#000" word-spacing="1">Incubation time (h)</text>
<line x1="214.40" y1="559.70" x2="284.90" y2="559.70" stroke="#000" stroke-width="1.5" stroke-linecap="butt"/>
<text x="192.80" y="578.00" font-size="11" text-anchor="middle" font-weight="bold" fill="#000" >kDa</text>
<text x="238.10" y="576.60" font-size="10.3" text-anchor="middle" font-weight="normal" fill="#000" >24</text>
<text x="268.40" y="576.60" font-size="10.3" text-anchor="middle" font-weight="normal" fill="#000" >48</text>
<rect x="216.6" y="582.5" width="75.6" height="64.7" fill="url(#gC2)" stroke="#111" stroke-width="1.4"/>
<g filter="url(#blur3)"><ellipse cx="240" cy="604" rx="15" ry="7" fill="#b0b0b0" opacity="0.6"/><ellipse cx="270" cy="603.5" rx="15" ry="7.5" fill="#b0b0b0" opacity="0.6"/><ellipse cx="255" cy="619" rx="29" ry="6" fill="#d0d0d0" opacity="0.55"/><rect x="220" y="586" width="68" height="12" fill="#e4e4e4" opacity="0.6"/></g>
<g filter="url(#blur1)"><path d="M225.8,610 C225.8,605.8 230,605.2 238,605.2 C245,605.2 250,605.6 253.8,607.6 C251,610.5 247,614 240,614.9 C231,615.6 225.8,614.6 225.8,610 Z" fill="#000"/><path d="M255.4,608.2 C256,605.4 262,604.6 269.5,604.6 C277,604.6 282.9,605 283,610 C283.1,615.5 277,616 269.5,616 C262,616 257.5,615.2 256.6,612 C256,610.5 255.3,609.3 255.4,608.2 Z" fill="#000"/></g>
<text x="305.50" y="621.00" font-size="11.3" text-anchor="middle" font-weight="bold" fill="#000" >NTD</text>
<text x="199.20" y="596.60" font-size="11" text-anchor="middle" font-weight="bold" fill="#000" >15</text>
<line x1="208.50" y1="593.00" x2="214.40" y2="593.00" stroke="#000" stroke-width="2" stroke-linecap="butt"/>
<text x="199.20" y="642.10" font-size="11" text-anchor="middle" font-weight="bold" fill="#000" >10</text>
<line x1="208.50" y1="638.60" x2="214.40" y2="638.60" stroke="#000" stroke-width="2" stroke-linecap="butt"/>
<text x="466.90" y="549.70" font-size="11.3" text-anchor="middle" font-weight="bold" fill="#000" word-spacing="1">Incubation time (h)</text>
<line x1="427.40" y1="559.10" x2="505.90" y2="559.10" stroke="#000" stroke-width="1.5" stroke-linecap="butt"/>
<text x="446.80" y="576.60" font-size="10.3" text-anchor="middle" font-weight="normal" fill="#000" >24</text>
<text x="486.90" y="576.60" font-size="10.3" text-anchor="middle" font-weight="normal" fill="#000" >48</text>
<text x="414.30" y="589.40" font-size="11" text-anchor="middle" font-weight="bold" fill="#000" >kDa</text>
<rect x="430.4" y="583.4" width="73.5" height="62.4" fill="#c9c9c9" stroke="#7a7a7a" stroke-width="1"/>
<g clip-path="url(#clipF)"><rect x="430" y="583" width="75" height="64" fill="url(#gF)"/><g filter="url(#blurF1)"><path d="M432.6,594 C433,589 441,587.5 449.6,587.5 C458,587.5 466.4,589 466.6,594 L466.6,624 L432.6,626 Z" fill="url(#gLane)"/><path d="M470.4,593 C470.7,588 478,586.5 486,586.5 C494,586.5 501.4,588 501.6,593 L501.6,623 L470.4,624 Z" fill="url(#gLane2)"/><path d="M471,633 C480,633.5 492,633.5 500,633 L500,638 C492,638.5 480,638.5 471,638 Z" fill="#b6b6b6" opacity="0.6"/><rect x="434" y="600" width="31" height="5" fill="#333" opacity="0.22"/><rect x="472" y="599" width="28" height="5" fill="#333" opacity="0.22"/></g><g filter="url(#blurF2)"><path d="M432.8,614 C445,612.5 458,612 466.4,611.5 L466.4,629.3 C458,630.5 445,631.5 432.8,633 Z" fill="url(#gBand)"/><path d="M470.6,610.5 C480,610 494,610 501.2,610 L501.2,627.3 C494,627.8 480,628.2 470.6,628.4 Z" fill="url(#gBand2)"/></g><rect x="466.9" y="583" width="3.6" height="64" fill="#d2d2d2" opacity="0.6" filter="url(#blur1)"/></g>
<rect x="430.4" y="583.4" width="73.5" height="62.4" fill="none" stroke="#7a7a7a" stroke-width="1"/>
<text x="513.7" y="627.3" font-size="11.3" font-weight="bold">MDP1<tspan font-size="7.6" dy="2.7">Mtb</tspan></text>
<text x="413.30" y="641.50" font-size="11" text-anchor="middle" font-weight="bold" fill="#000" >25</text>
<line x1="423.20" y1="637.00" x2="428.90" y2="637.00" stroke="#000" stroke-width="2" stroke-linecap="butt"/>
</svg>
</body></html>
